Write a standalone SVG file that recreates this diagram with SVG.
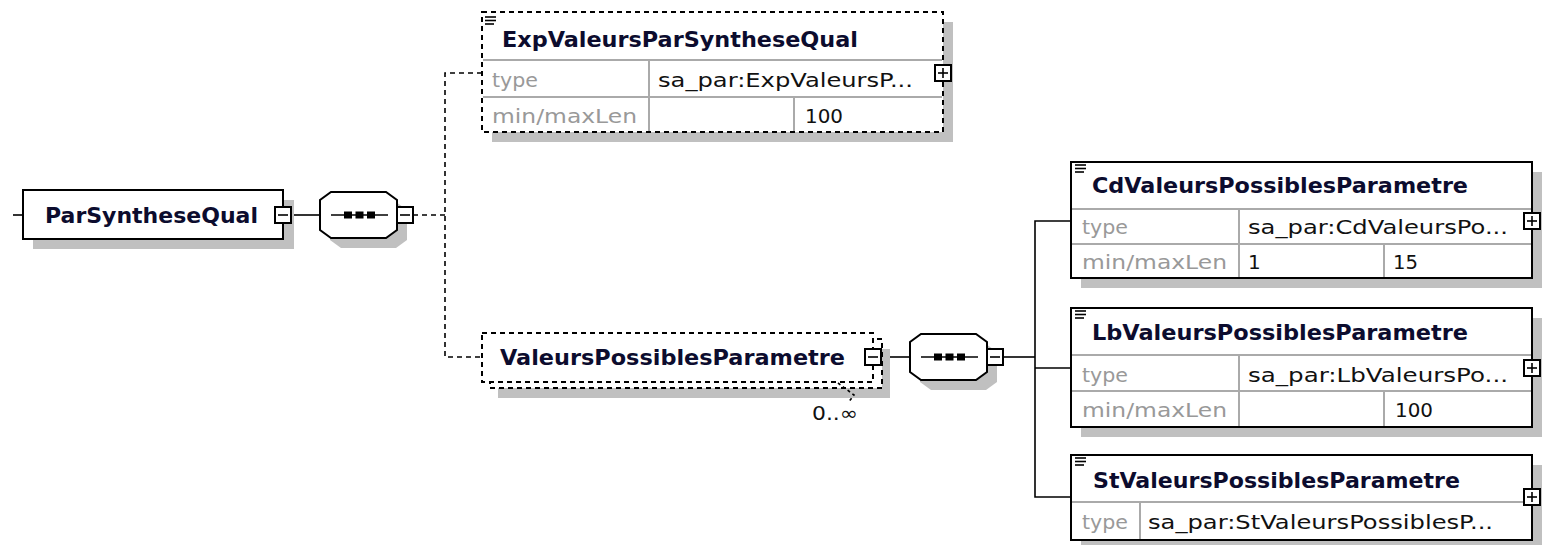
<svg xmlns="http://www.w3.org/2000/svg" width="1545" height="545" viewBox="0 0 1545 545">
<style>
.bg{fill:#fff}
.sh{fill:#c0c0c0;stroke:none}
.box{fill:#fff;stroke:#000;stroke-width:2}
.dbox{fill:none;stroke:#000;stroke-width:2;stroke-dasharray:5,4}
.div{stroke:#aaa;stroke-width:2;fill:none}
.ln{stroke:#000;stroke-width:1.6;fill:none}
.dln{stroke:#000;stroke-width:1.6;fill:none;stroke-dasharray:5,4}
.btn{fill:#fff;stroke:#000;stroke-width:2}
.ttl{font-family:"DejaVu Sans","Liberation Sans",sans-serif;font-weight:bold;font-size:21px;fill:#0c0c2e}
.lbl{font-family:"DejaVu Sans","Liberation Sans",sans-serif;font-size:20px;fill:#999}
.val{font-family:"DejaVu Sans","Liberation Sans",sans-serif;font-size:20px;fill:#111}
.occ{font-family:"DejaVu Sans","Liberation Sans",sans-serif;font-size:19px;fill:#111}
.ico{stroke:#000;stroke-width:1.6}
</style>
<defs>
<g id="minus"><rect class="btn" x="-8" y="-8" width="16" height="16"/><line class="ln" x1="-5" y1="0" x2="5" y2="0"/></g>
<g id="plus"><rect class="btn" x="-8" y="-8" width="16" height="16"/><line class="ln" x1="-5" y1="0" x2="5" y2="0"/><line class="ln" x1="0" y1="-5" x2="0" y2="5"/></g>
<g id="icon"><line class="ico" x1="0" y1="0" x2="11" y2="0"/><line class="ico" x1="0" y1="3.5" x2="11" y2="3.5"/><line class="ico" x1="0" y1="7" x2="9" y2="7"/></g>
<g id="seqshape"><polygon points="11,0 66,0 77,8 77,38 66,46 11,46 0,38 0,8"/></g>
</defs>
<rect class="bg" x="0" y="0" width="1545" height="545"/>

<g id="connectors">
<line class="ln" x1="13" y1="215" x2="23" y2="215"/>
<line class="ln" x1="291" y1="215" x2="320" y2="215"/>
<line class="dln" x1="413" y1="215" x2="445" y2="215"/>
<polyline class="dln" points="482,73 445,73 445,357 482,357"/>
<line class="ln" x1="881" y1="357" x2="910" y2="357"/>
<line class="ln" x1="1003" y1="357" x2="1035" y2="357"/>
<polyline class="ln" points="1071,221 1035,221 1035,497 1071,497"/>
<line class="ln" x1="1035" y1="368" x2="1071" y2="368"/>
</g>

<g id="ParSyntheseQual">
<rect class="sh" x="33" y="200" width="261" height="49"/>
<rect class="box" x="23" y="190" width="260" height="49"/>
<text class="ttl" x="45" y="223" textLength="213" lengthAdjust="spacingAndGlyphs">ParSyntheseQual</text>
<use href="#minus" x="283" y="215"/>
</g>

<g id="seq1">
<use href="#seqshape" x="330" y="202" class="sh"/>
<use href="#seqshape" x="320" y="192" fill="#fff" stroke="#000" stroke-width="2"/>
<line class="ln" x1="331" y1="215" x2="388" y2="215"/>
<rect x="344" y="211.5" width="8" height="7" fill="#000"/>
<rect x="355.5" y="211.5" width="8" height="7" fill="#000"/>
<rect x="367" y="211.5" width="8" height="7" fill="#000"/>
<use href="#minus" x="405" y="215"/>
</g>

<g id="ExpValeursParSyntheseQual">
<rect class="sh" x="492" y="22" width="461" height="120"/>
<rect fill="#fff" x="482" y="12" width="461" height="120"/>
<line class="div" x1="483" y1="60" x2="942" y2="60"/>
<line class="div" x1="483" y1="97" x2="942" y2="97"/>
<line class="div" x1="649" y1="60" x2="649" y2="131"/>
<line class="div" x1="794" y1="97" x2="794" y2="131"/>
<rect class="dbox" x="482" y="12" width="461" height="120"/>
<use href="#icon" x="485" y="17"/>
<text class="ttl" x="502" y="47" textLength="356" lengthAdjust="spacingAndGlyphs">ExpValeursParSyntheseQual</text>
<text class="lbl" x="492" y="87" textLength="46" lengthAdjust="spacingAndGlyphs">type</text>
<text class="val" x="658" y="87" textLength="255" lengthAdjust="spacingAndGlyphs">sa_par:ExpValeursP...</text>
<text class="lbl" x="492" y="123" textLength="145" lengthAdjust="spacingAndGlyphs">min/maxLen</text>
<text class="val" x="805" y="123" textLength="38" lengthAdjust="spacingAndGlyphs">100</text>
<use href="#plus" x="943" y="73"/>
</g>

<g id="ValeursPossiblesParametre">
<rect class="sh" x="498" y="349" width="392" height="49"/>
<rect x="490" y="339" width="392" height="49" fill="#fff"/>
<rect class="dbox" x="490" y="339" width="392" height="49"/>
<rect x="482" y="333" width="391" height="49" fill="#fff"/>
<rect class="dbox" x="482" y="333" width="391" height="49"/>
<text class="ttl" x="500" y="365" textLength="345" lengthAdjust="spacingAndGlyphs">ValeursPossiblesParametre</text>
<use href="#minus" x="873" y="357"/>
<polyline class="dln" points="838,383 854,395 848,403" style="stroke-dasharray:3,3"/>
<text class="occ" x="812" y="420" textLength="46" lengthAdjust="spacingAndGlyphs">0..∞</text>
</g>

<g id="seq2">
<use href="#seqshape" x="920" y="344" class="sh"/>
<use href="#seqshape" x="910" y="334" fill="#fff" stroke="#000" stroke-width="2"/>
<line class="ln" x1="921" y1="357" x2="978" y2="357"/>
<rect x="934" y="353.5" width="8" height="7" fill="#000"/>
<rect x="945.5" y="353.5" width="8" height="7" fill="#000"/>
<rect x="957" y="353.5" width="8" height="7" fill="#000"/>
<use href="#minus" x="995" y="357"/>
</g>

<g id="CdValeursPossiblesParametre">
<rect class="sh" x="1081" y="172" width="461" height="116"/>
<rect class="box" x="1071" y="162" width="461" height="116"/>
<line class="div" x1="1072" y1="209" x2="1531" y2="209"/>
<line class="div" x1="1072" y1="244" x2="1531" y2="244"/>
<line class="div" x1="1239" y1="209" x2="1239" y2="277"/>
<line class="div" x1="1384" y1="244" x2="1384" y2="277"/>
<use href="#icon" x="1075" y="165"/>
<text class="ttl" x="1092" y="193" textLength="376" lengthAdjust="spacingAndGlyphs">CdValeursPossiblesParametre</text>
<text class="lbl" x="1082" y="234" textLength="46" lengthAdjust="spacingAndGlyphs">type</text>
<text class="val" x="1248" y="234" textLength="260" lengthAdjust="spacingAndGlyphs">sa_par:CdValeursPo...</text>
<text class="lbl" x="1082" y="269" textLength="145" lengthAdjust="spacingAndGlyphs">min/maxLen</text>
<text class="val" x="1248" y="269">1</text>
<text class="val" x="1393" y="269" textLength="25" lengthAdjust="spacingAndGlyphs">15</text>
<use href="#plus" x="1532" y="221"/>
</g>

<g id="LbValeursPossiblesParametre">
<rect class="sh" x="1081" y="318" width="461" height="119"/>
<rect class="box" x="1071" y="308" width="461" height="119"/>
<line class="div" x1="1072" y1="355" x2="1531" y2="355"/>
<line class="div" x1="1072" y1="391" x2="1531" y2="391"/>
<line class="div" x1="1239" y1="355" x2="1239" y2="426"/>
<line class="div" x1="1384" y1="391" x2="1384" y2="426"/>
<use href="#icon" x="1075" y="311"/>
<text class="ttl" x="1092" y="340" textLength="376" lengthAdjust="spacingAndGlyphs">LbValeursPossiblesParametre</text>
<text class="lbl" x="1082" y="382" textLength="46" lengthAdjust="spacingAndGlyphs">type</text>
<text class="val" x="1248" y="382" textLength="260" lengthAdjust="spacingAndGlyphs">sa_par:LbValeursPo...</text>
<text class="lbl" x="1082" y="417" textLength="145" lengthAdjust="spacingAndGlyphs">min/maxLen</text>
<text class="val" x="1395" y="417" textLength="38" lengthAdjust="spacingAndGlyphs">100</text>
<use href="#plus" x="1532" y="368"/>
</g>

<g id="StValeursPossiblesParametre">
<rect class="sh" x="1081" y="465" width="461" height="90"/>
<rect class="box" x="1071" y="455" width="461" height="85"/>
<line class="div" x1="1072" y1="502" x2="1531" y2="502"/>
<line class="div" x1="1140" y1="502" x2="1140" y2="539"/>
<use href="#icon" x="1075" y="458"/>
<text class="ttl" x="1093" y="488" textLength="367" lengthAdjust="spacingAndGlyphs">StValeursPossiblesParametre</text>
<text class="lbl" x="1082" y="529" textLength="46" lengthAdjust="spacingAndGlyphs">type</text>
<text class="val" x="1148" y="529" textLength="345" lengthAdjust="spacingAndGlyphs">sa_par:StValeursPossiblesP...</text>
<use href="#plus" x="1532" y="497"/>
</g>
</svg>
